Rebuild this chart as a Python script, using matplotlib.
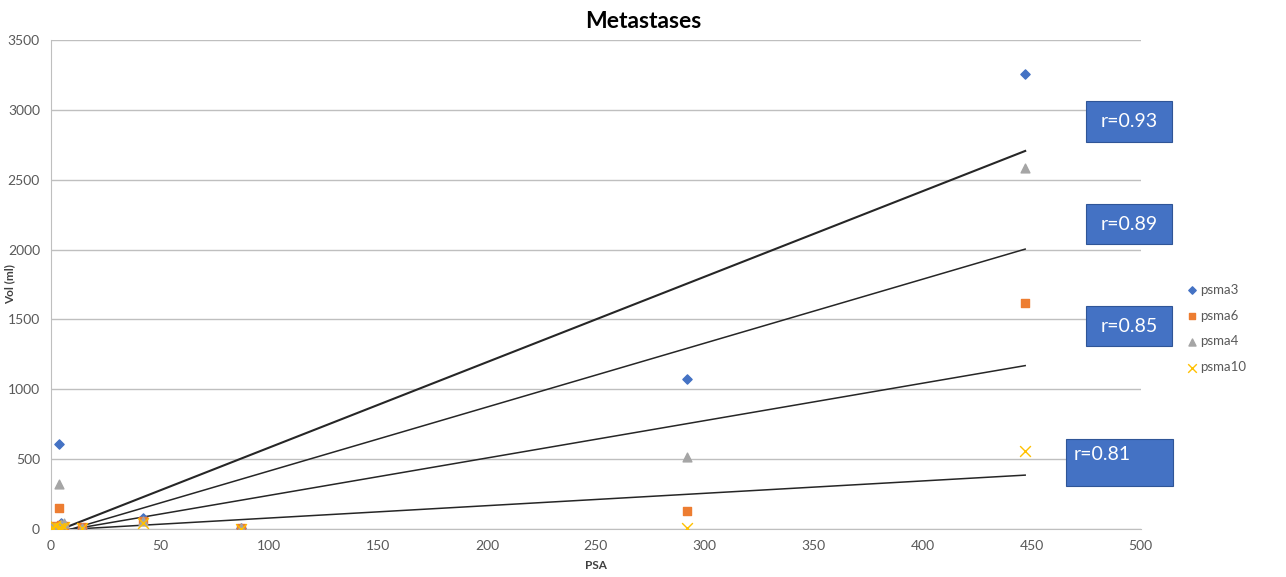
import numpy as np
import matplotlib.pyplot as plt
from matplotlib.patches import Rectangle

plt.rcParams['font.family'] = ['Lato', 'DejaVu Sans']

# PSA values and measured volumes (ml) per tracer
psa = [0.2, 0.5, 1.0, 2.0, 3.5, 4.5, 6.0, 14.0, 42.0, 87.0, 292.0, 447.0]
psma3 = [5, 10, 15, 8, 610, 40, 30, 10, 80, 10, 1070, 3260]
psma6 = [10, 5, 20, 15, 150, 30, 20, 15, 60, 10, 130, 1615]
psma4 = [5, 8, 10, 12, 325, 35, 40, 8, 55, 5, 515, 2585]
psma10 = [2, 5, 10, 20, 5, 10, 15, 5, 40, 3, 5, 555]

series_names = ["psma3", "psma6", "psma4", "psma10"]
r_labels = ["r=0.93", "r=0.89", "r=0.85", "r=0.81"]

fig = plt.figure(figsize=(12.86, 5.77), dpi=100)
ax = fig.add_axes([0.0397, 0.0832, 0.8473, 0.8475])

styles = [
    dict(marker="D", color="#4472C4", s=22),
    dict(marker="s", color="#ED7D31", s=38),
    dict(marker="^", color="#A5A5A5", s=40),
    dict(marker="x", color="#FFC000", s=60, linewidths=1.0),
]
x = np.array(psa)
for name, vals, st in zip(series_names, [psma3, psma6, psma4, psma10], styles):
    ax.scatter(x, vals, label=name, zorder=3, **st)

# linear trendlines
xt = np.array([x.min(), x.max()])
for vals, lw in zip([psma3, psma4, psma6, psma10], [1.5, 1.1, 1.1, 1.1]):
    k, b = np.polyfit(x, vals, 1)
    ax.plot(xt, k * xt + b, color="#262626", lw=lw, zorder=2)

ax.set_xlim(0, 500)
ax.set_ylim(0, 3500)
ax.set_xticks(np.arange(0, 501, 50))
ax.set_yticks(np.arange(0, 3501, 500))
ax.grid(axis="y", color="#bfbfbf", lw=1)
ax.set_axisbelow(True)
for s in ["top", "right"]:
    ax.spines[s].set_visible(False)
ax.spines["left"].set_color("#bfbfbf")
ax.spines["bottom"].set_color("#bfbfbf")
ax.tick_params(length=0, labelsize=10, labelcolor="#595959", pad=8)
ax.set_xlabel("PSA", fontsize=8.5, fontweight="bold", color="#404040", labelpad=6)
ax.set_ylabel("Vol (ml)", fontsize=8.5, fontweight="bold", color="#404040")
ax.yaxis.set_label_coords(-0.033, 0.5)
fig.text(0.5, 0.962, "Metastases", ha="center", va="center", fontsize=16.5, fontweight="bold")

ax.legend(loc="center left", bbox_to_anchor=(1.03, 0.41), frameon=False, fontsize=9.5,
          handletextpad=0.1, labelspacing=1.05, markerscale=0.8, handlelength=1.0,
          labelcolor="#595959")

# correlation boxes
boxes = [(1086, 101, 86, 41, "center"), (1086, 204, 86, 40, "center"),
         (1086, 306, 86, 40, "center"), (1066, 439, 107, 47, "left")]
W, H = 1286, 577
for (bx, by, bw, bh, al), lab in zip(boxes, r_labels):
    fig.add_artist(Rectangle((bx / W, 1 - (by + bh) / H), bw / W, bh / H,
                             transform=fig.transFigure, facecolor="#4472C4",
                             edgecolor="#2F5597", lw=0.8))
    tx = (bx + bw / 2) / W if al == "center" else (bx + 8) / W
    ty = 1 - (by + bh / 2) / H if al == "center" else 1 - (by + 15) / H
    fig.text(tx, ty, lab, ha=al, va="center", color="white", fontsize=14)

fig.savefig("out.png", dpi=100)
